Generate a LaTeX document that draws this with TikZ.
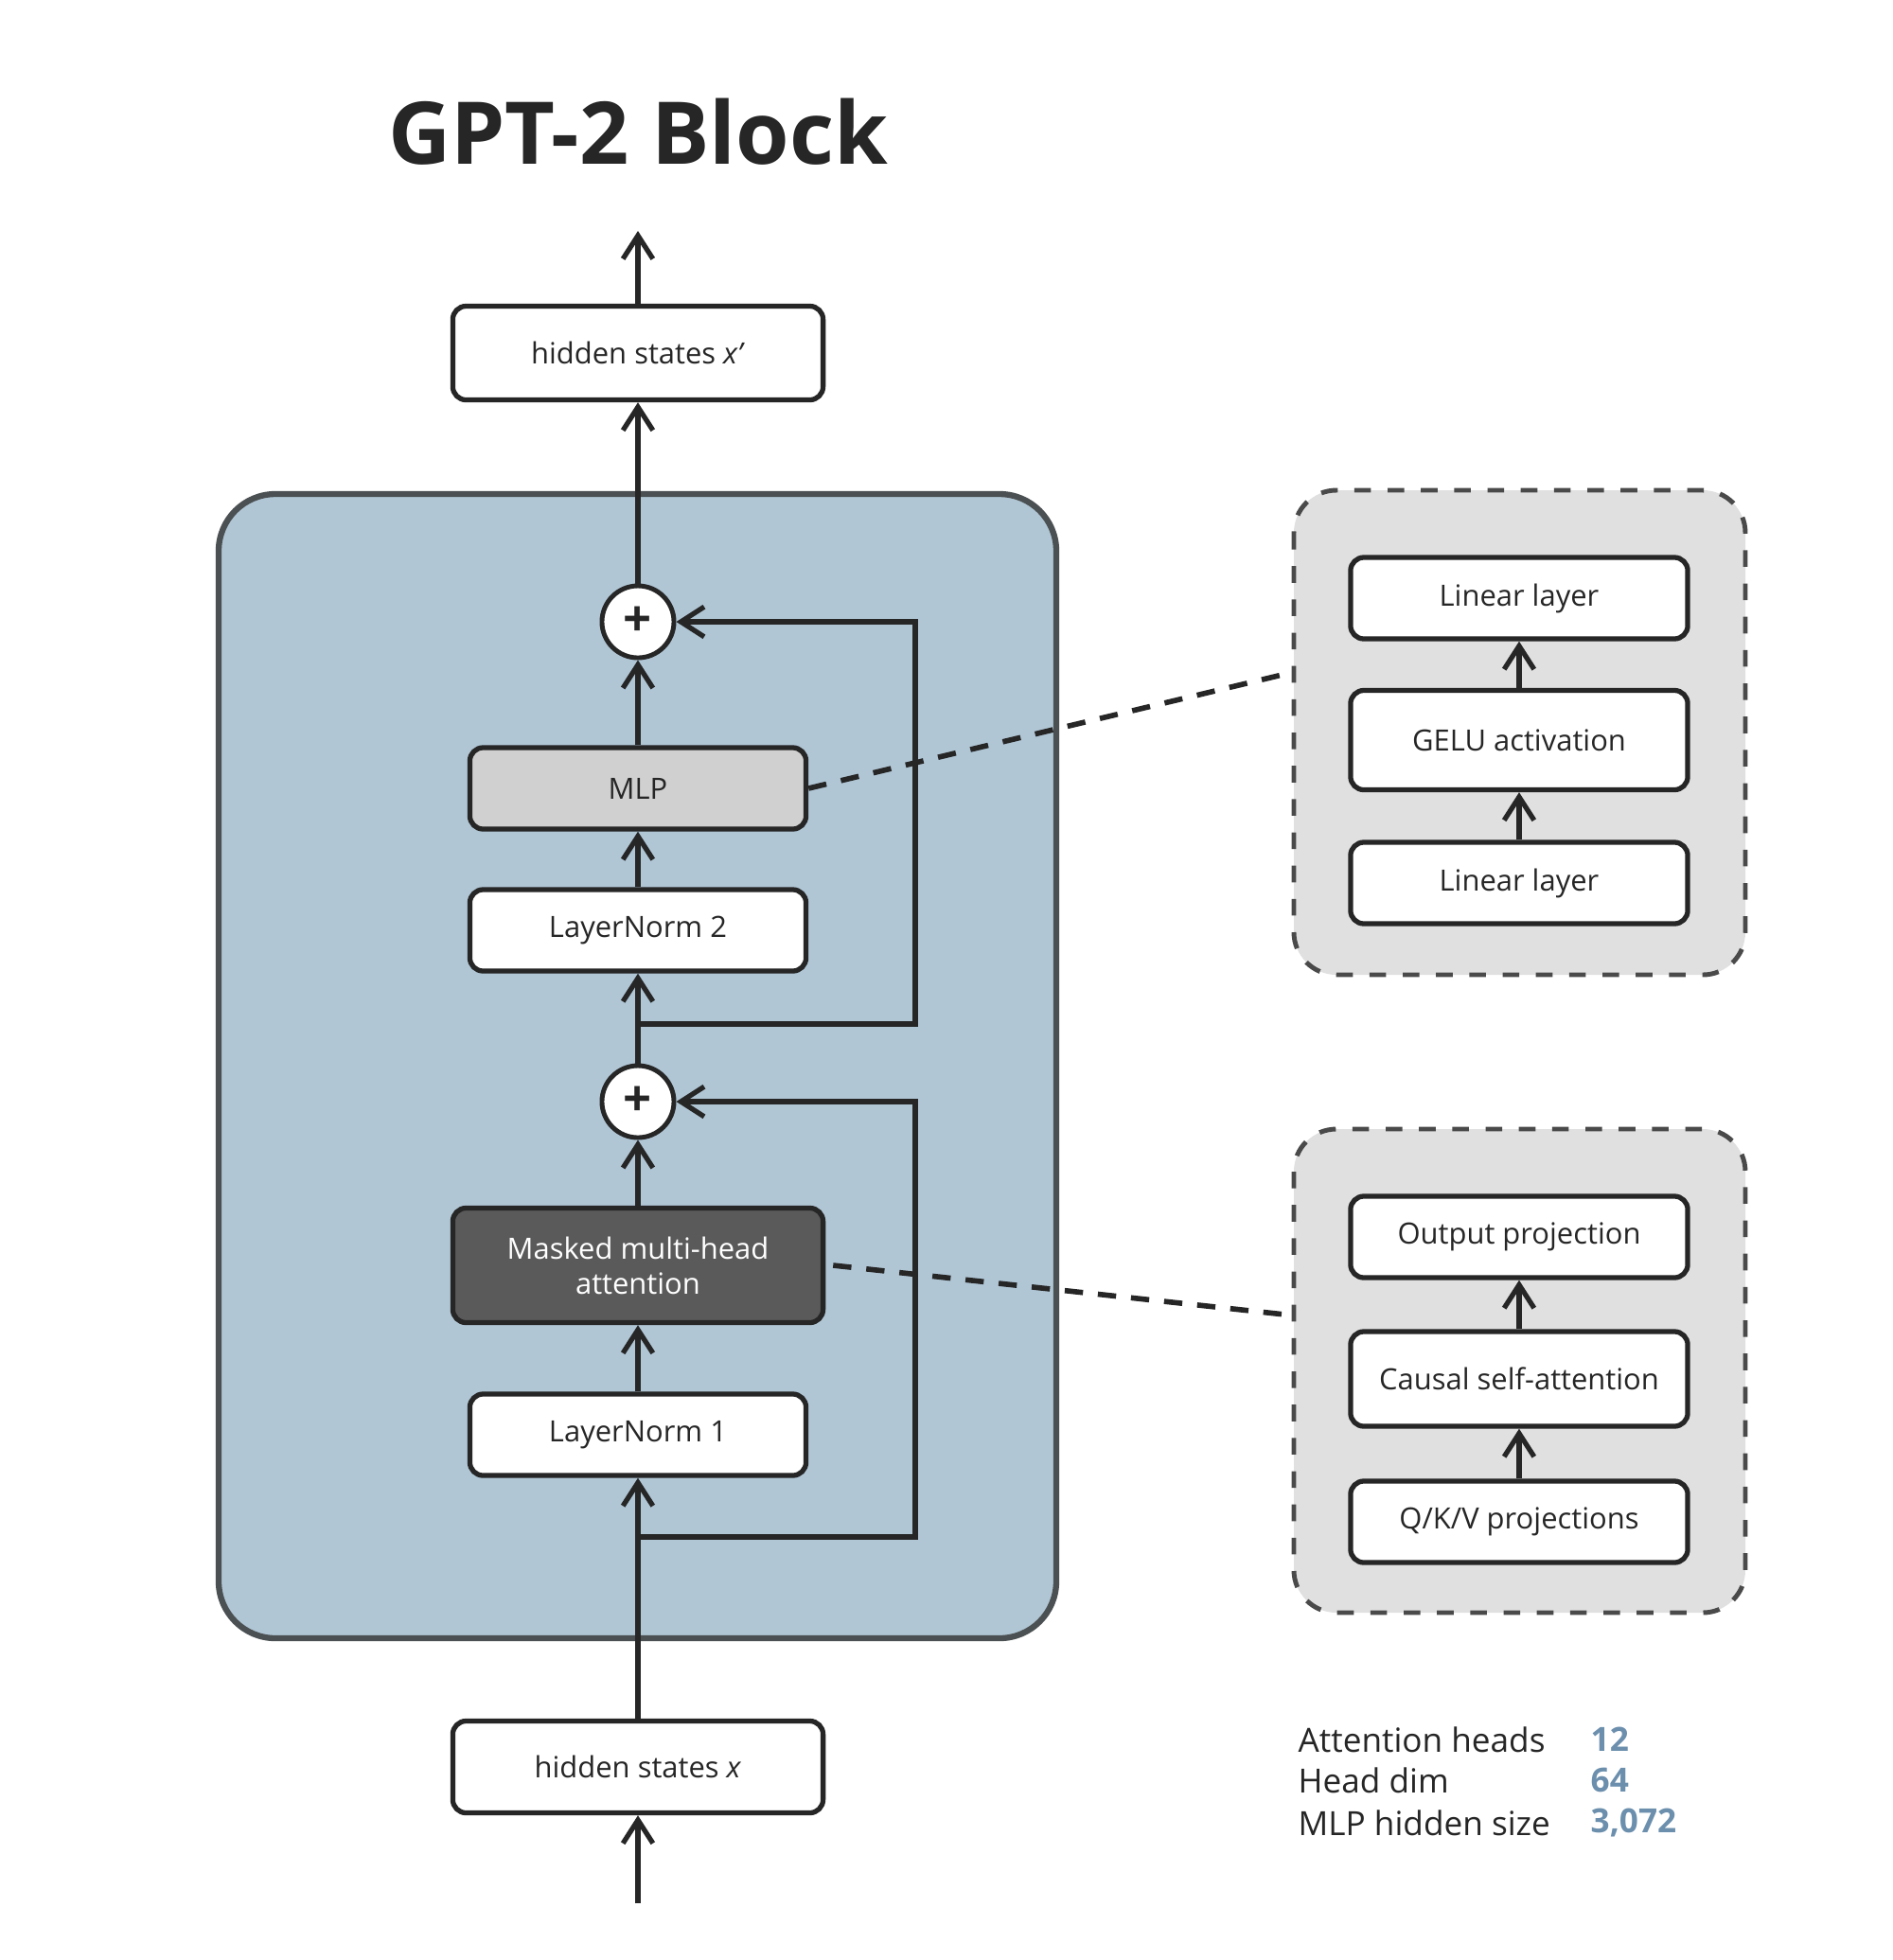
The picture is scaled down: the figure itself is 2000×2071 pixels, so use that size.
\documentclass[tikz,border=0pt]{standalone}
\usepackage{fontspec}
\setmainfont{Open Sans}
\usetikzlibrary{arrows.meta}
\definecolor{ink}{HTML}{262626}
\definecolor{blockblue}{HTML}{B0C6D5}
\definecolor{blockedge}{HTML}{4B5052}
\definecolor{mlpgray}{HTML}{D0D0D0}
\definecolor{attgray}{HTML}{5A5A5A}
\definecolor{grpfill}{HTML}{E0E0E0}
\definecolor{grpedge}{HTML}{4A4A4A}
\definecolor{valblue}{HTML}{6B8FAD}
\begin{document}
\begin{tikzpicture}[x=0.01cm,y=-0.01cm,
  box/.style={draw=ink, line width=1.5pt, rounded corners=4pt, fill=white,
    minimum width=3.55cm, minimum height=0.86cm, inner sep=0pt,
    font=\fontsize{8.8}{10.5}\selectfont, text=ink, align=center},
  plusnode/.style={circle, draw=ink, line width=1.4pt, fill=white,
    minimum size=0.76cm, inner sep=0pt, font=\fontsize{15}{15}\selectfont\bfseries, text=ink},
  arr/.style={draw=ink, line width=1.5pt, -{Straight Barb[length=7pt,width=9pt]}},
  resline/.style={draw=ink, line width=1.5pt, -{Straight Barb[length=7pt,width=9pt]}},
  grp/.style={draw=grpedge, fill=grpfill, line width=1.4pt, dash pattern=on 5pt off 5pt, rounded corners=0.45cm},
  dashlink/.style={draw=ink, line width=1.6pt, dash pattern=on 5.5pt off 4.5pt},
  stat/.style={font=\fontsize{10}{12}\selectfont, text=ink, anchor=west, inner sep=0pt},
  statval/.style={font=\fontsize{10}{12}\selectfont\bfseries, text=valblue, anchor=west, inner sep=0pt}
]
\useasboundingbox[fill=white] (0,0) rectangle (2000,2071);

% title
\node[font=\fontsize{26}{30}\selectfont\bfseries, text=ink] (title) at (674,139) {GPT-2 Block};

% container
\draw[fill=blockblue, draw=blockedge, line width=1.8pt, rounded corners=0.6cm] (231,522) rectangle (1116,1731);

% main column
\node[box, minimum width=3.91cm, minimum height=0.99cm] (outx) at (674,373) {hidden states \textit{x’}};
\node[plusnode] (p1) at (674,657) {+};
\node[box, fill=mlpgray] (mlp) at (674,833) {MLP};
\node[box] (ln2) at (674,983) {LayerNorm 2};
\node[plusnode] (p2) at (674,1164) {+};
\node[box, fill=attgray, text=white, minimum width=3.91cm, minimum height=1.21cm] (att) at (674,1337) {Masked multi-head\\attention};
\node[box] (ln1) at (674,1516) {LayerNorm 1};
\node[box, minimum width=3.91cm, minimum height=0.97cm] (inx) at (674,1867) {hidden states \textit{x}};

\coordinate (top) at (674,244);
\coordinate (bot) at (674,2011);
\coordinate (j1) at (674,1624);
\coordinate (j2) at (674,1082);
\coordinate (r1) at (967,1624);
\coordinate (r1t) at (967,1164);
\coordinate (r2) at (967,1082);
\coordinate (r2t) at (967,657);

\draw[arr] (bot) -- (inx.south);
\draw[arr] (inx.north) -- (ln1.south);
\draw[arr] (ln1.north) -- (att.south);
\draw[arr] (att.north) -- (p2.south);
\draw[arr] (p2.north) -- (ln2.south);
\draw[arr] (ln2.north) -- (mlp.south);
\draw[arr] (mlp.north) -- (p1.south);
\draw[arr] (p1.north) -- (outx.south);
\draw[arr] (outx.north) -- (top);

\draw[resline] (j1) -- (r1) -- (r1t) -- (p2.east);
\draw[resline] (j2) -- (r2) -- (r2t) -- (p1.east);

% MLP group
\draw[grp] (1367,518) rectangle (1844,1030);
\node[box, minimum width=3.56cm] (lin2) at (1605,632) {Linear layer};
\node[box, minimum width=3.56cm, minimum height=1.05cm] (gelu) at (1605,782) {GELU activation};
\node[box, minimum width=3.56cm] (lin1) at (1605,933) {Linear layer};
\draw[arr] (lin1.north) -- (gelu.south);
\draw[arr] (gelu.north) -- (lin2.south);

% attention group
\draw[grp] (1367,1193) rectangle (1844,1704);
\node[box, minimum width=3.56cm] (outp) at (1605,1307) {Output projection};
\node[box, minimum width=3.56cm, minimum height=1.0cm] (csa) at (1605,1457) {Causal self-attention};
\node[box, minimum width=3.56cm] (qkv) at (1605,1608) {Q/K/V projections};
\draw[arr] (qkv.north) -- (csa.south);
\draw[arr] (csa.north) -- (outp.south);

% dashed links
\coordinate (mlpg) at (1363,711);
\coordinate (attg) at (1367,1390);
\draw[dashlink] (mlp.east) -- (mlpg);
\draw[dashlink] ([xshift=0.08cm]att.east) -- (attg);

% stats
\node[stat] (s1) at (1371,1838) {Attention heads};
\node[stat] (s2) at (1371,1881) {Head dim};
\node[stat] (s3) at (1371,1926) {MLP hidden size};
\node[statval] (v1) at (1680,1838) {12};
\node[statval] (v2) at (1680,1881) {64};
\node[statval] (v3) at (1680,1926) {3,072};
\end{tikzpicture}
\end{document}
